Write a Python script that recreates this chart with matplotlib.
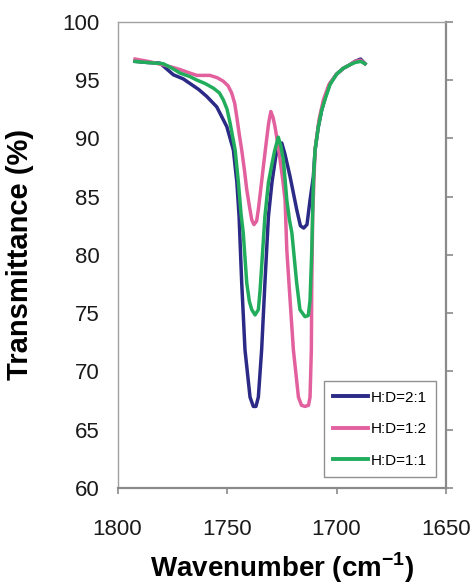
import matplotlib
matplotlib.use('Agg')
import matplotlib.pyplot as plt

plt.rcParams['font.family'] = ['Liberation Sans', 'DejaVu Sans']

# series (wavenumber in cm-1, transmittance in %)
wn_21 = [1792.0, 1786.0, 1780.6, 1774.5, 1770.0, 1766.9, 1763.0, 1759.3, 1754.7,
         1750.1, 1747.1, 1745.5, 1744.5, 1743.3, 1741.8, 1739.5, 1738.0, 1736.8,
         1735.7, 1734.2, 1732.7, 1731.1, 1729.5, 1727.8, 1726.5, 1725.0, 1723.5,
         1721.2, 1718.2, 1716.5, 1715.0, 1713.5, 1712.1, 1710.6, 1709.8, 1708.3,
         1706.8, 1705.0, 1703.0, 1700.0, 1696.9, 1694.0, 1691.6, 1689.0, 1687.0]
tr_21 = [96.6, 96.5, 96.45, 95.45, 95.1, 94.7, 94.2, 93.6, 92.7,
         91.0, 89.0, 86.2, 83.3, 77.6, 71.85, 67.8, 67.0, 67.0,
         67.8, 71.85, 77.6, 83.3, 86.2, 88.4, 89.4, 89.6, 88.6,
         86.7, 83.9, 82.5, 82.3, 82.6, 84.7, 86.7, 89.0, 91.0,
         92.4, 93.6, 94.7, 95.5, 96.0, 96.3, 96.6, 96.8, 96.4]

wn_12 = [1792.0, 1786.0, 1779.1, 1775.0, 1771.5, 1767.0, 1763.8, 1760.0, 1757.8,
         1754.5, 1751.7, 1749.5, 1747.9, 1746.5, 1745.6, 1744.3, 1743.3, 1742.0,
         1741.0, 1739.8, 1738.7, 1737.7, 1736.5, 1735.7, 1734.5, 1733.4, 1732.0,
         1731.0, 1730.0, 1729.0, 1728.1, 1726.8, 1725.8, 1724.6, 1723.5, 1722.7,
         1721.2, 1719.7, 1717.4, 1716.0, 1714.4, 1712.8, 1712.1, 1711.5, 1711.3,
         1710.9, 1710.3, 1709.8, 1708.0, 1706.0, 1703.5, 1700.0, 1697.0, 1694.0,
         1691.6, 1689.0, 1687.0]
tr_12 = [96.8, 96.6, 96.3, 96.1, 95.9, 95.6, 95.4, 95.4, 95.4,
         95.2, 94.9, 94.5, 93.9, 93.0, 91.9, 90.2, 89.0, 87.2,
         85.6, 84.2, 83.0, 82.6, 82.9, 83.9, 85.8, 87.6, 89.8,
         91.3, 92.3, 91.8, 91.0, 89.5, 88.2, 86.5, 84.7, 80.4,
         76.1, 71.85, 67.8, 67.1, 67.0, 67.1, 67.8, 71.85, 77.6,
         83.3, 86.5, 89.0, 91.6, 93.3, 94.6, 95.5, 96.0, 96.3,
         96.6, 96.7, 96.4]

wn_11 = [1792.0, 1786.0, 1779.1, 1775.0, 1771.5, 1767.0, 1763.8, 1760.0, 1756.2,
         1753.5, 1751.7, 1750.0, 1748.6, 1747.3, 1746.3, 1744.8, 1743.6, 1742.6,
         1741.0, 1739.8, 1738.7, 1737.2, 1735.7, 1734.9, 1734.2, 1732.7, 1731.1,
         1729.5, 1728.3, 1726.6, 1725.5, 1724.3, 1722.7, 1721.5, 1720.4, 1718.2,
         1716.7, 1714.4, 1712.9, 1712.1, 1711.3, 1710.6, 1709.8, 1708.3, 1706.8,
         1705.0, 1703.0, 1700.0, 1697.0, 1694.0, 1691.6, 1689.0, 1687.0]
tr_11 = [96.6, 96.5, 96.4, 96.0, 95.6, 95.3, 95.0, 94.7, 94.3,
         93.9, 93.3, 92.5, 91.3, 90.0, 89.0, 86.2, 83.5, 81.9,
         77.6, 76.0, 75.3, 74.85, 75.3, 77.0, 79.0, 83.3, 86.2,
         87.8, 88.9, 90.1, 89.4, 88.2, 84.7, 83.0, 81.9, 77.6,
         75.3, 74.7, 74.8, 76.1, 80.4, 86.2, 89.0, 91.0, 92.4,
         93.5, 94.6, 95.5, 96.0, 96.3, 96.5, 96.6, 96.4]

labels = ['H:D=2:1', 'H:D=1:2', 'H:D=1:1']
colors = ['#2b2a86', '#e2609e', '#22ad5c']

xticks = [1800, 1750, 1700, 1650]
yticks = [60, 65, 70, 75, 80, 85, 90, 95, 100]

fig = plt.figure(figsize=(4.72, 5.88), dpi=100)
ax = fig.add_axes([0.249, 0.170, 0.696, 0.793])

for wn, tr, lab, col in zip([wn_21, wn_12, wn_11], [tr_21, tr_12, tr_11],
                            labels, colors):
    ax.plot(wn, tr, color=col, lw=2.5, label=lab)

ax.set_xlim(1800, 1650)
ax.set_ylim(60, 100)
ax.set_xticks(xticks)
ax.set_yticks(yticks)

# frame: axis lines bottom/right, plot-area border left/top
gray = '#8a8a8a'
for side in ['bottom', 'right']:
    ax.spines[side].set_color(gray)
    ax.spines[side].set_linewidth(1.6)
for side in ['left', 'top']:
    ax.spines[side].set_color('#a0a0a0')
    ax.spines[side].set_linewidth(1.0)

ax.tick_params(axis='x', direction='out', length=4, width=1.2, color=gray,
               labelsize=16, pad=18, labelcolor='#1a1a1a')
ax.tick_params(axis='y', direction='out', length=5, width=1.2, color=gray,
               left=False, right=True, labelleft=True, labelright=False,
               labelsize=16, pad=8, labelcolor='#1a1a1a')

ax.set_xlabel('Wavenumber (cm$^{\\mathregular{-1}}$)', fontsize=20,
              fontweight='bold')
ax.xaxis.set_label_coords(0.5, -0.135)
ax.set_ylabel('Transmittance (%)', fontsize=21, fontweight='bold')
ax.yaxis.set_label_coords(-0.255, 0.5)

leg = ax.legend(loc='lower right', bbox_to_anchor=(0.97, 0.024),
                borderaxespad=0, fontsize=11, handlelength=2.3,
                handletextpad=0.2, labelspacing=1.15, borderpad=0.6,
                fancybox=False, framealpha=1)
leg.get_frame().set_edgecolor('#909090')
leg.get_frame().set_linewidth(1.0)
for line in leg.get_lines():
    line.set_linewidth(2.8)

fig.savefig('out.png', dpi=100)
